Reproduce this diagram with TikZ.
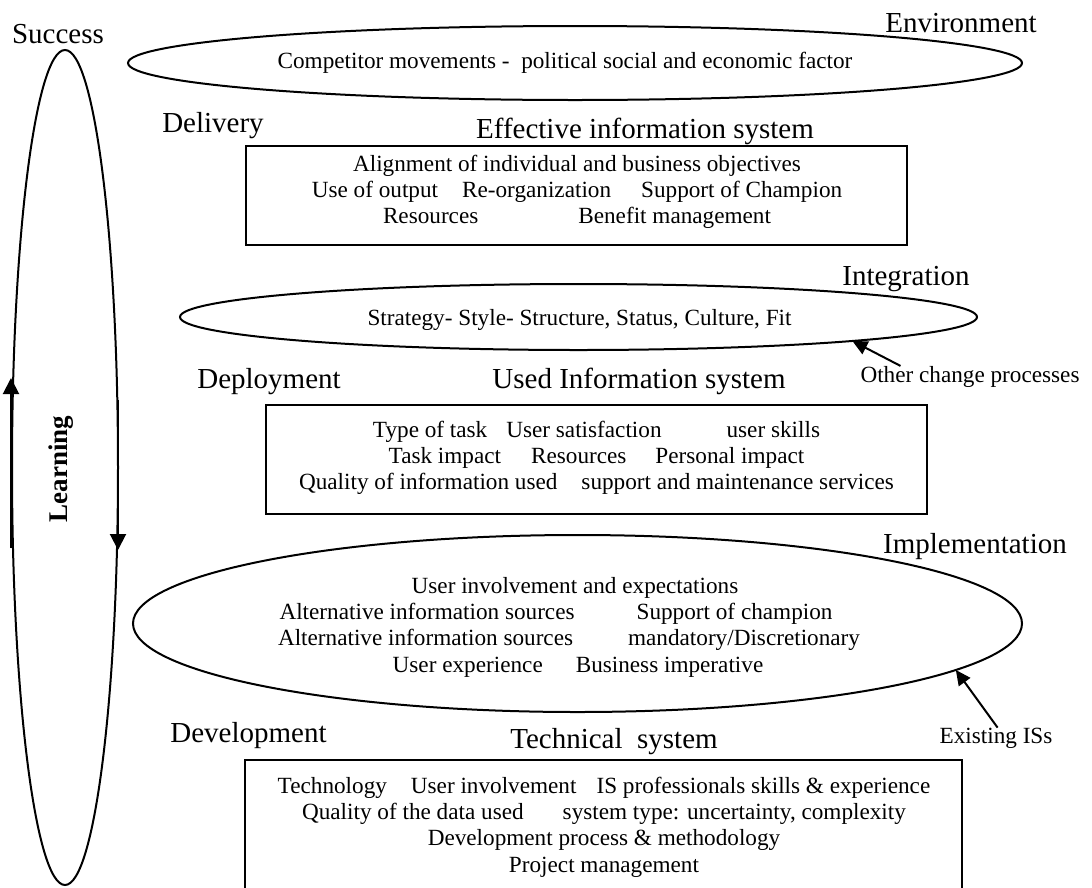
\documentclass[tikz,border=0pt]{standalone}
\usepackage{fontspec}
\setmainfont{Liberation Serif}
\usetikzlibrary{shapes.geometric,arrows.meta}

\newcommand{\bodysize}{\fontsize{23.2}{26.3}\selectfont}
\newcommand{\headsize}{\fontsize{29}{33}\selectfont}

\begin{document}
\begin{tikzpicture}[x=1pt,y=-1pt,every node/.style={inner sep=0pt,outer sep=0pt},
    lbl/.style={font=\headsize,anchor=base},
    txt/.style={font=\bodysize,align=center},
    ring/.style={draw,ellipse,line width=2pt},
    panel/.style={draw,rectangle,line width=2.2pt},
    ptr/.style={line width=2pt,-{Triangle[length=15pt,width=14pt]}},
    cyc/.style={line width=2pt,-{Triangle[length=16pt,width=16pt]}}]
      \useasboundingbox (0,0) rectangle (1092,887);
      \clip (0,0) rectangle (1092,887);
      \path (65,467.5) node[ring,minimum width=106,minimum height=835] (learnring) {};
      \path (61,469) node[rotate=90,font=\bfseries\fontsize{27}{30}\selectfont] (learning) {Learning};
      \coordinate (upfrom) at (11,548);
      \coordinate (upto) at (11,378);
      \coordinate (downfrom) at (118,400);
      \coordinate (downto) at (118,550);
      \draw[cyc] (upfrom) -- (upto);
      \draw[cyc] (downfrom) -- (downto);
      \path (58,43) node[lbl] (success) {Success};
      \path (961,32) node[lbl] (environment) {Environment};
      \path (575,63) node[ring,minimum width=894,minimum height=74] (envring) {};
      \path (565,68) node[txt,anchor=base] (envtxt) {Competitor movements -~~political social and economic factor};
      \path (213,132) node[lbl] (delivery) {Delivery};
      \path (645,138) node[lbl] (effective) {Effective information system};
      \path (576.5,195.5) node[panel,minimum width=661,minimum height=99] (deliverybox) {};
      \path (577,192) node[txt] (deliverytxt) {Alignment of individual and business objectives\\
        Use of output\hspace{24pt}Re-organization\hspace{30pt}Support of Champion\\
        Resources\hspace{100pt}Benefit management};
      \path (906,285) node[lbl] (integration) {Integration};
      \path (578.5,317) node[ring,minimum width=797,minimum height=66] (integring) {};
      \path (579.5,325) node[txt,anchor=base] (integtxt) {Strategy- Style- Structure, Status, Culture, Fit};
      \path (970,382) node[txt,anchor=base] (other) {Other change processes};
      \draw[ptr] ([xshift=40pt]other.north west) -- (integring.-5);
      \path (269,388) node[lbl] (deployment) {Deployment};
      \path (639,388) node[lbl] (used) {Used Information system};
      \path (596.5,459.5) node[panel,minimum width=661,minimum height=109] (deploybox) {};
      \path (596.5,458) node[txt] (deploytxt) {Type of task\hspace{19pt}User satisfaction\hspace{65pt}user skills\\
        Task impact\hspace{30pt}Resources\hspace{29pt}Personal impact\\
        Quality of information used\hspace{24pt}support and maintenance services};
      \path (975,553) node[lbl] (implementation) {Implementation};
      \path (577.5,623.5) node[ring,minimum width=889,minimum height=177] (implring) {};
      \path (575,627) node[txt] (impltxt) {User involvement and expectations\\
        Alternative information sources\hspace{62pt}Support of champion\rule{38pt}{0pt}\\
        Alternative information sources\hspace{55pt}mandatory/Discretionary\rule{12pt}{0pt}\\
        \rule{6pt}{0pt}User experience\hspace{33pt}Business imperative};
      \path (996,743) node[txt,anchor=base] (existing) {Existing ISs};
      \draw[ptr] ([xshift=58pt]existing.north west) -- (implring.-7);
      \path (248.5,742) node[lbl] (development) {Development};
      \path (614,748) node[lbl] (technical) {Technical~~system};
      \path (603.5,840) node[panel,minimum width=717,minimum height=160] (developbox) {};
      \path (604,827) node[txt] (developtxt) {Technology\hspace{24pt}User involvement\hspace{20pt}IS professionals skills \& experience\\
        Quality of the data used\hspace{39pt}system type: uncertainty, complexity\\
        Development process \& methodology\\
        Project management};
    \end{tikzpicture}
\end{document}
